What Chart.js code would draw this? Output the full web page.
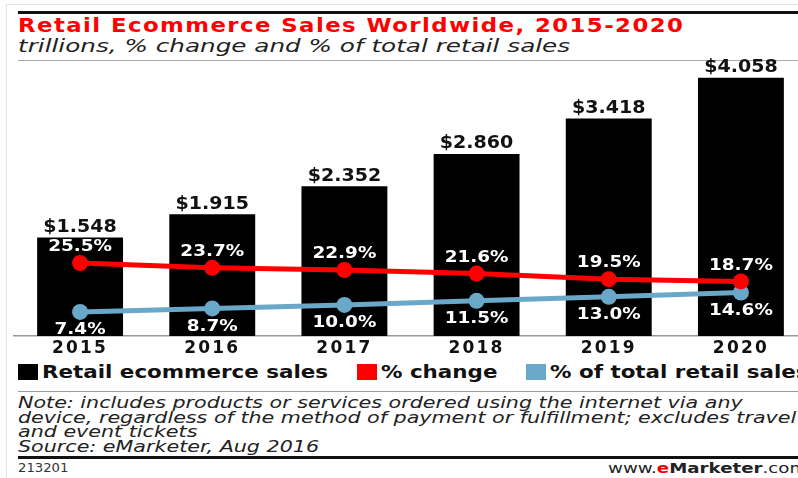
<!DOCTYPE html>
<html>
<head>
<meta charset="utf-8">
<script src="https://cdn.jsdelivr.net/npm/chart.js@4.4.1/dist/chart.umd.min.js"></script>
<style>
  html, body { margin: 0; padding: 0; background: #fff; overflow: hidden; }
  #wrap { position: relative; width: 815px; height: 478px; font-family: "DejaVu Sans", sans-serif; }
  .abs { position: absolute; white-space: nowrap; }
  .wide { transform-origin: left center; }
  #frame { left: 6px; top: 4px; right: 0; bottom: 0; border-left: 1px solid #e4e4e4; border-top: 1px solid #e4e4e4; }
  #ruleTop { left: 18px; right: 0; top: 11px; height: 3px; background: #111; }
  #title { left: 18px; top: 14px; font-size: 19px; font-weight: bold; color: #f00; letter-spacing: 1.2px; transform: scaleX(1.2); }
  #subtitle { left: 18px; top: 35px; font-size: 18px; font-style: italic; color: #222; transform: scaleX(1.37); }
  #ruleSub { left: 18px; right: 0; top: 60px; height: 1px; background: #aaa; }
  #chartBox { left: 0; top: 50px; width: 815px; height: 310px; }
  #legend { left: 18px; top: 362px; height: 20px; display: flex; align-items: center; }
  #legend .item { display: flex; align-items: center; margin-right: 29px; }
  #legend .box { width: 20px; height: 16px; margin-right: 4px; }
  #legend .txt { display: inline-block; font-size: 17px; font-weight: bold; color: #111; transform: scaleX(1.26); transform-origin: left center; }
  #ruleNote { left: 18px; right: 0; top: 391px; height: 1px; background: #999; }
  #note { left: 18px; top: 396px; font-size: 16px; font-style: italic; color: #222; line-height: 14.5px; transform: scaleX(1.29); transform-origin: left top; }
  #ruleBottom { left: 18px; right: 0; top: 456px; height: 3px; background: #111; }
  #code { left: 18px; top: 461px; font-size: 12px; color: #333; transform: scaleX(1.1); transform-origin: left top; }
  #site { right: 8px; top: 460px; font-size: 14px; color: #222; transform: scaleX(1.3); transform-origin: right top; }
</style>
</head>
<body>
<div id="wrap">
  <div id="frame" class="abs"></div>
  <div id="ruleTop" class="abs"></div>
  <div id="title" class="abs wide">Retail Ecommerce Sales Worldwide, 2015-2020</div>
  <div id="subtitle" class="abs wide">trillions, % change and % of total retail sales</div>
  <div id="ruleSub" class="abs"></div>
  <div id="chartBox" class="abs"><canvas id="chart"></canvas></div>
  <div id="legend" class="abs"></div>
  <div id="ruleNote" class="abs"></div>
  <div id="note" class="abs">Note: includes products or services ordered using the internet via any<br>device, regardless of the method of payment or fulfillment; excludes travel<br>and event tickets<br>Source: eMarketer, Aug 2016</div>
  <div id="ruleBottom" class="abs"></div>
  <div id="code" class="abs">213201</div>
  <div id="site" class="abs">www.<b style="color:#e00">e</b><b>Marketer</b>.com</div>
</div>
<script>
const years = ['2015', '2016', '2017', '2018', '2019', '2020']
const sales = [1.548, 1.915, 2.352, 2.860, 3.418, 4.058]
const pctChange = [25.5, 23.7, 22.9, 21.6, 19.5, 18.7]
const pctOfTotal = [7.4, 8.7, 10.0, 11.5, 13.0, 14.6]

const RED = '#ff0000'
const BLUE = '#6aa8c9'
const FONT = '"DejaVu Sans", sans-serif'

// 원본 이미지가 가로로 늘어나 있어서 글자도 가로로 늘려서 그림
function wideText(ctx, text, x, y, sx) {
  ctx.save()
  ctx.translate(x, y)
  ctx.scale(sx, 1)
  ctx.fillText(text, 0, 0)
  ctx.restore()
}

const valueLabels = {
  id: 'valueLabels',
  beforeDraw(chart) { chart.ctx.letterSpacing = '2.2px' },
  beforeLayout(chart) { chart.ctx.letterSpacing = '2.2px' },
  afterDatasetsDraw(chart) {
    const ctx = chart.ctx
    ctx.save()
    ctx.letterSpacing = '0px'
    ctx.textAlign = 'center'
    ctx.textBaseline = 'middle'

    ctx.font = `bold 17px ${FONT}`
    ctx.fillStyle = '#111'
    chart.getDatasetMeta(0).data.forEach((bar, i) => {
      wideText(ctx, '$' + sales[i].toFixed(3), bar.x, bar.y - 10, 1.12)
    })

    ctx.font = `bold 16px ${FONT}`
    ctx.fillStyle = '#fff'
    chart.getDatasetMeta(1).data.forEach((pt, i) => {
      wideText(ctx, pctChange[i].toFixed(1) + '%', pt.x, pt.y - 16, 1.15)
    })
    chart.getDatasetMeta(2).data.forEach((pt, i) => {
      wideText(ctx, pctOfTotal[i].toFixed(1) + '%', pt.x, pt.y + 18, 1.15)
    })
    ctx.restore()
  },
}

const chart = new Chart(document.getElementById('chart'), {
  type: 'bar',
  data: {
    labels: years,
    datasets: [
      {
        label: 'Retail ecommerce sales',
        data: sales,
        backgroundColor: '#000',
        barPercentage: 0.65,
        categoryPercentage: 1,
        yAxisID: 'y',
        order: 3,
      },
      {
        type: 'line',
        label: '% change',
        data: pctChange,
        borderColor: RED,
        backgroundColor: RED,
        borderWidth: 5,
        pointRadius: 8,
        pointBackgroundColor: RED,
        pointBorderWidth: 0,
        yAxisID: 'yPct',
        order: 1,
      },
      {
        type: 'line',
        label: '% of total retail sales',
        data: pctOfTotal,
        borderColor: BLUE,
        backgroundColor: BLUE,
        borderWidth: 5,
        pointRadius: 8,
        pointBackgroundColor: BLUE,
        pointBorderWidth: 0,
        yAxisID: 'yPct',
        order: 2,
      },
    ],
  },
  options: {
    responsive: true,
    maintainAspectRatio: false,
    animation: false,
    layout: { padding: { top: 20, left: 14, right: 7, bottom: 0 } },
    plugins: {
      tooltip: { enabled: false },
      legend: { display: false },
    },
    scales: {
      x: {
        grid: { display: false, drawTicks: false },
        border: { display: true, color: '#999', width: 1.5 },
        ticks: { color: '#111', padding: 2, font: { family: FONT, size: 17, weight: 'bold' } },
        afterFit: scale => { scale.height = 24 },
      },
      y: { display: false, min: 0, max: 4.18 },
      yPct: { display: false, min: -1.48, max: 96.8 },
    },
  },
  plugins: [valueLabels],
})

// 범례는 HTML로 (가로 늘림 때문에 폭을 직접 맞춤)
const legendEl = document.getElementById('legend')
chart.data.datasets.forEach(ds => {
  const item = document.createElement('div')
  item.className = 'item'
  const box = document.createElement('span')
  box.className = 'box'
  box.style.background = ds.backgroundColor
  const txt = document.createElement('span')
  txt.className = 'txt'
  txt.textContent = ds.label
  const holder = document.createElement('span')
  holder.appendChild(txt)
  item.appendChild(box)
  item.appendChild(holder)
  legendEl.appendChild(item)
  holder.style.display = 'inline-block'
  holder.style.width = (txt.offsetWidth * 1.26) + 'px'
})
</script>
</body>
</html>
